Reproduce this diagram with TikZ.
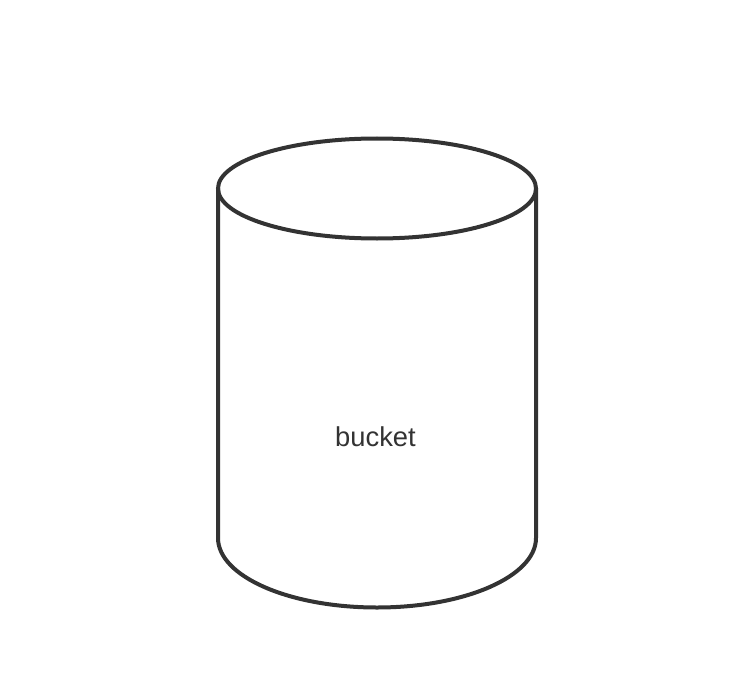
\documentclass[tikz,border=0pt]{standalone}
\usepackage{fontspec}
\setmainfont{Liberation Sans}
\definecolor{bucketgray}{HTML}{333333}
\tikzset{bucketline/.style={draw=bucketgray,line width=4*0.75pt}}
\begin{document}
\begin{tikzpicture}[x=0.75pt,y=-0.75pt]
    \useasboundingbox (0,0) rectangle (738,688);
    \coordinate (topleft) at (218,188);
    \coordinate (topright) at (536,188);
    \coordinate (botleft) at (218,538);

    \path [bucketline] (topleft) -- (botleft) arc[start angle=180,end angle=360,x radius=159,y radius=-69.5] -- (topright);
    \path [bucketline] (377,188.5) ellipse [x radius=159,y radius=50];
    \node[text=bucketgray,font=\fontsize{20.5}{22}\selectfont] (label) at (375.5,437) {bucket};
\end{tikzpicture}
\end{document}
